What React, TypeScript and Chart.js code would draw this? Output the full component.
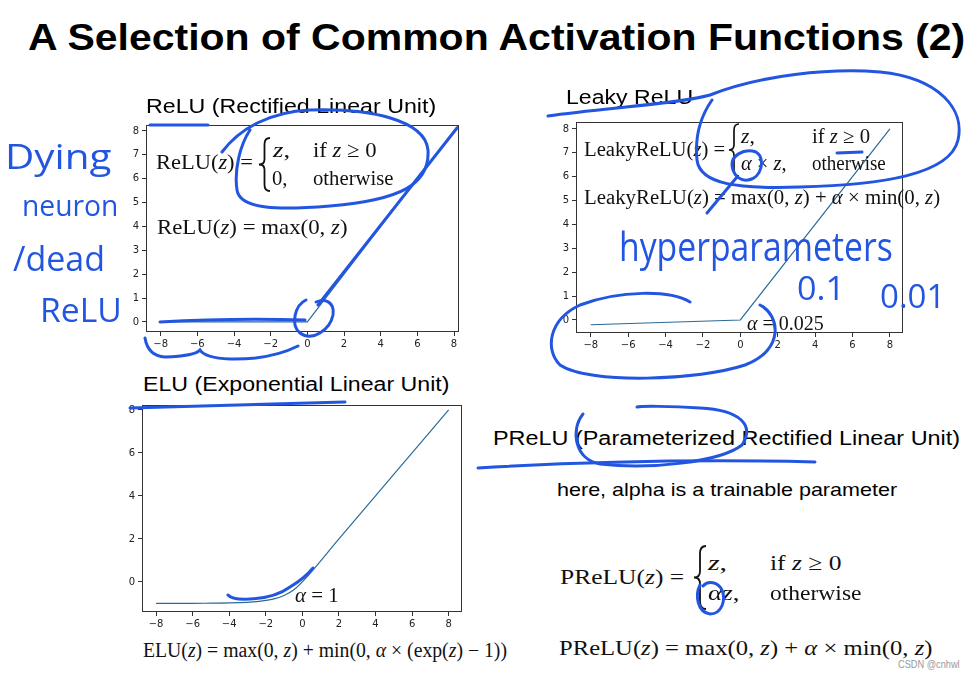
import React, { useEffect, useLayoutEffect, useRef } from 'react';
import { Chart, registerables } from 'chart.js';

Chart.register(...registerables);

// ---------------- data ----------------
const reluZ = [-8, 0, 8.2];
const reluOut = [0, 0, 8.2];

const leakyZ = [-8, 0, 8];
const leakyOut = [-0.2, 0, 8];

const eluZ = [-8, -6, -5, -4, -3, -2.5, -2, -1.5, -1, -0.5, 0, 2, 4, 6, 8];
const eluOut = [-1, -1, -0.99, -0.98, -0.95, -0.92, -0.86, -0.78, -0.63, -0.39, 0, 2, 4, 6, 8];

const xTickValues = [-8, -6, -4, -2, 0, 2, 4, 6, 8];
const reluYTicks = [0, 1, 2, 3, 4, 5, 6, 7, 8];
const leakyYTicks = [0, 1, 2, 3, 4, 5, 6, 7, 8];
const eluYTicks = [0, 2, 4, 6, 8];

const BLUE = '#2356e0';
const LINE = '#2a6a9a';
const SERIF = '"Liberation Serif", "DejaVu Serif", serif';
const SANS = '"Liberation Sans", Arial, sans-serif';
const HAND = '"Open Sans", "DejaVu Sans", sans-serif';

const YW = 30;
const XH = 22;
const PT = 10;
const PR = 12;

const fmt = (v: number) => (v < 0 ? '\u2212' + Math.abs(v) : String(v));

const framePlugin = {
  id: 'frame',
  afterDraw(chart: any) {
    const { ctx, chartArea: a } = chart;
    ctx.save();
    ctx.strokeStyle = '#333';
    ctx.lineWidth = 1;
    ctx.strokeRect(Math.round(a.left) + 0.5, Math.round(a.top) + 0.5, Math.round(a.width) - 1, Math.round(a.height) - 1);
    ctx.restore();
  },
};

type PanelProps = {
  frame: { l: number; t: number; r: number; b: number };
  xs: number[];
  ys: number[];
  xMin: number;
  xMax: number;
  yMin: number;
  yMax: number;
  xTicks: number[];
  yTicks: number[];
  smooth?: boolean;
};

function ChartPanel(p: PanelProps) {
  const ref = useRef<HTMLCanvasElement>(null);
  const w = p.frame.r - p.frame.l + YW + PR;
  const h = p.frame.b - p.frame.t + PT + XH;
  useEffect(() => {
    if (!ref.current) return;
    const tickFont = { family: '"DejaVu Sans", sans-serif', size: 10 };
    const chart = new Chart(ref.current, {
      type: 'line',
      data: {
        datasets: [
          {
            data: p.xs.map((x, i) => ({ x, y: p.ys[i] })),
            borderColor: LINE,
            borderWidth: 1.2,
            pointRadius: 0,
            fill: false,
            cubicInterpolationMode: p.smooth ? 'monotone' : 'default',
            tension: 0,
          },
        ],
      },
      options: {
        animation: false,
        responsive: false,
        maintainAspectRatio: false,
        layout: { padding: { top: PT, right: PR, left: 0, bottom: 0 } },
        plugins: { legend: { display: false }, tooltip: { enabled: false } },
        scales: {
          x: {
            type: 'linear',
            min: p.xMin,
            max: p.xMax,
            afterBuildTicks: (s: any) => {
              s.ticks = p.xTicks.map((v) => ({ value: v }));
            },
            afterFit: (s: any) => {
              s.height = XH;
            },
            grid: { drawOnChartArea: false, drawTicks: true, tickLength: 4, color: '#333' },
            border: { display: false },
            ticks: { font: tickFont, color: '#222', padding: 2, maxRotation: 0, autoSkip: false, callback: (v: any) => fmt(Number(v)) },
          },
          y: {
            type: 'linear',
            min: p.yMin,
            max: p.yMax,
            afterBuildTicks: (s: any) => {
              s.ticks = p.yTicks.map((v) => ({ value: v }));
            },
            afterFit: (s: any) => {
              s.width = YW;
            },
            grid: { drawOnChartArea: false, drawTicks: true, tickLength: 4, color: '#333' },
            border: { display: false },
            ticks: { font: tickFont, color: '#222', padding: 3, autoSkip: false, callback: (v: any) => fmt(Number(v)) },
          },
        },
      },
      plugins: [framePlugin],
    } as any);
    return () => chart.destroy();
  }, []);
  return (
    <canvas
      ref={ref}
      width={w}
      height={h}
      style={{ position: 'absolute', left: p.frame.l - YW, top: p.frame.t - PT, width: w, height: h }}
    />
  );
}

type FitProps = {
  x: number;
  w: number;
  cy: number;
  size: number;
  family?: string;
  weight?: number | string;
  italic?: boolean;
  color?: string;
  children: React.ReactNode;
};

function FitText(p: FitProps) {
  const ref = useRef<HTMLDivElement>(null);
  useLayoutEffect(() => {
    const el = ref.current;
    if (!el) return;
    const natural = el.offsetWidth;
    const k = natural > 0 ? p.w / natural : 1;
    el.style.transform = `translateY(-50%) scaleX(${k})`;
  }, []);
  return (
    <div
      ref={ref}
      style={{
        position: 'absolute',
        left: p.x,
        top: p.cy,
        fontSize: p.size,
        fontFamily: p.family || SERIF,
        fontWeight: p.weight || 400,
        fontStyle: p.italic ? 'italic' : 'normal',
        color: p.color || '#111',
        whiteSpace: 'nowrap',
        lineHeight: 1,
        transformOrigin: '0 50%',
        transform: 'translateY(-50%)',
      }}
    >
      {p.children}
    </div>
  );
}

const I = (s: string) => <i>{s}</i>;

function bracePath(x: number, y0: number, y1: number, w: number) {
  const h = y1 - y0;
  const mid = (y0 + y1) / 2;
  const xm = x + w / 2;
  return `M ${x + w} ${y0} Q ${xm} ${y0} ${xm} ${y0 + h * 0.12} L ${xm} ${mid - h * 0.1} Q ${xm} ${mid} ${x} ${mid} Q ${xm} ${mid} ${xm} ${mid + h * 0.1} L ${xm} ${y1 - h * 0.12} Q ${xm} ${y1} ${x + w} ${y1}`;
}

export default function App() {
  return (
    <div
      style={{
        position: 'absolute',
        left: 0,
        top: 0,
        width: 979,
        height: 679,
        background: '#fff',
        overflow: 'hidden',
      }}
    >
      <ChartPanel
        frame={{ l: 146, t: 125, r: 459, b: 332 }}
        xs={reluZ}
        ys={reluOut}
        xMin={-8.8}
        xMax={8.27}
        yMin={-0.42}
        yMax={8.25}
        xTicks={xTickValues}
        yTicks={reluYTicks}
      />
      <ChartPanel
        frame={{ l: 576, t: 122, r: 903, b: 333 }}
        xs={leakyZ}
        ys={leakyOut}
        xMin={-8.79}
        xMax={8.7}
        yMin={-0.545}
        yMax={8.29}
        xTicks={xTickValues}
        yTicks={leakyYTicks}
      />
      <ChartPanel
        frame={{ l: 142, t: 405, r: 462, b: 612 }}
        xs={eluZ}
        ys={eluOut}
        xMin={-8.77}
        xMax={8.73}
        yMin={-1.4}
        yMax={8.23}
        xTicks={xTickValues}
        yTicks={eluYTicks}
        smooth
      />

      {/* Titles */}
      <FitText x={28} w={937} cy={37} size={37} family={SANS} weight={700} color="#000">
        A Selection of Common Activation Functions (2)
      </FitText>
      <FitText x={146} w={290} cy={106} size={20} family={SANS} color="#000">
        ReLU (Rectified Linear Unit)
      </FitText>
      <FitText x={566} w={127} cy={97} size={20} family={SANS} color="#000">
        Leaky ReLU
      </FitText>
      <FitText x={143} w={307} cy={384} size={20} family={SANS} color="#000">
        ELU (Exponential Linear Unit)
      </FitText>
      <FitText x={493} w={467} cy={438} size={20} family={SANS} color="#000">
        PReLU (Parameterized Rectified Linear Unit)
      </FitText>
      <FitText x={557} w={340} cy={490} size={18.5} family={SANS} color="#000">
        here, alpha is a trainable parameter
      </FitText>

      {/* ReLU formulas */}
      <FitText x={156} w={97} cy={162} size={22}>
        ReLU({I('z')}) =
      </FitText>
      <FitText x={273} w={17} cy={150} size={22}>
        {I('z')},
      </FitText>
      <FitText x={313} w={64} cy={150} size={22}>
        if {I('z')} ≥ 0
      </FitText>
      <FitText x={272} w={16} cy={178} size={22}>
        0,
      </FitText>
      <FitText x={313} w={81} cy={178} size={22}>
        otherwise
      </FitText>
      <FitText x={157} w={190} cy={227} size={22}>
        ReLU({I('z')}) = max(0, {I('z')})
      </FitText>

      {/* Leaky formulas */}
      <FitText x={584} w={141} cy={149} size={20}>
        LeakyReLU({I('z')}) =
      </FitText>
      <FitText x={741} w={14} cy={136} size={20}>
        {I('z')},
      </FitText>
      <FitText x={812} w={58} cy={136} size={20}>
        if {I('z')} ≥ 0
      </FitText>
      <FitText x={741} w={46} cy={163} size={20}>
        {I('α')} × {I('z')},
      </FitText>
      <FitText x={812} w={74} cy={163} size={20}>
        otherwise
      </FitText>
      <FitText x={584} w={356} cy={197} size={20}>
        LeakyReLU({I('z')}) = max(0, {I('z')}) + {I('α')} × min(0, {I('z')})
      </FitText>
      <FitText x={747} w={77} cy={323} size={20}>
        {I('α')} = 0.025
      </FitText>

      {/* ELU formulas */}
      <FitText x={295} w={44} cy={595} size={20}>
        {I('α')} = 1
      </FitText>
      <FitText x={143} w={364} cy={650} size={20}>
        ELU({I('z')}) = max(0, {I('z')}) + min(0, {I('α')} × (exp({I('z')}) − 1))
      </FitText>

      {/* PReLU formulas */}
      <FitText x={560} w={124} cy={577} size={22}>
        PReLU({I('z')}) =
      </FitText>
      <FitText x={708} w={19} cy={563} size={22}>
        {I('z')},
      </FitText>
      <FitText x={770} w={72} cy={563} size={22}>
        if {I('z')} ≥ 0
      </FitText>
      <FitText x={708} w={32} cy={593} size={22}>
        {I('αz')},
      </FitText>
      <FitText x={770} w={92} cy={593} size={22}>
        otherwise
      </FitText>
      <FitText x={559} w={374} cy={648} size={22}>
        PReLU({I('z')}) = max(0, {I('z')}) + {I('α')} × min(0, {I('z')})
      </FitText>

      <FitText x={898} w={62} cy={664} size={11} family={SANS} color="#999">
        CSDN @cnhwl
      </FitText>

      {/* braces */}
      <svg width={979} height={679} style={{ position: 'absolute', left: 0, top: 0, pointerEvents: 'none' }}>
        <path d={bracePath(259, 138, 191, 11)} stroke="#111" strokeWidth={1.8} fill="none" />
        <path d={bracePath(729, 124, 176, 10)} stroke="#111" strokeWidth={1.7} fill="none" />
        <path d={bracePath(694, 546, 609, 12)} stroke="#111" strokeWidth={1.8} fill="none" />
      </svg>

      {/* handwriting text */}
      <FitText x={5} w={107} cy={156} size={34} family={HAND} color={BLUE}>
        Dying
      </FitText>
      <FitText x={22} w={96} cy={205} size={30} family={HAND} color={BLUE}>
        neuron
      </FitText>
      <FitText x={13} w={92} cy={258} size={34} family={HAND} color={BLUE}>
        /dead
      </FitText>
      <FitText x={40} w={82} cy={310} size={32} family={HAND} color={BLUE}>
        ReLU
      </FitText>
      <FitText x={619} w={274} cy={246} size={40} family={HAND} color={BLUE}>
        hyperparameters
      </FitText>
      <FitText x={797} w={48} cy={288} size={32} family={HAND} color={BLUE}>
        0.1
      </FitText>
      <FitText x={880} w={65} cy={296} size={32} family={HAND} color={BLUE}>
        0.01
      </FitText>

      {/* handwriting strokes */}
      <svg width={979} height={679} style={{ position: 'absolute', left: 0, top: 0, pointerEvents: 'none' }}>
        <g stroke={BLUE} strokeWidth={3} fill="none" strokeLinecap="round">
          <path d="M150 125 L208 125" />
          <path d="M222 152 C 240 128 270 112 310 110 C 370 108 425 120 428 150 C 430 185 400 200 330 206 C 280 210 240 210 237 190 C 234 170 240 145 250 130" />
          <path d="M160 322 Q 230 318 305 320" />
          <path d="M318 305 L 457 128" />
          <path d="M306 300 C 295 305 290 325 300 333 C 312 342 330 330 333 315 C 335 302 325 298 316 302" />
          <path d="M145 338 Q 148 356 165 357 Q 195 356 200 350 Q 205 358 230 359 Q 270 360 298 346" />
          <path d="M548 116 C 600 108 680 104 710 95 C 760 75 830 68 880 72 C 940 78 965 110 958 140 C 950 175 880 185 800 187 C 740 189 700 185 697 160 C 694 130 705 110 712 100" />
          <path d="M733 170 C 728 155 745 148 756 152 C 766 158 762 178 748 180 C 740 181 735 176 733 170" />
          <path d="M837 153 L 862 152" />
          <path d="M707 213 L 737 177" />
          <path d="M690 302 C 670 290 620 290 580 305 C 548 320 545 350 560 365 C 590 385 700 380 745 365 C 785 350 780 315 760 305" />
          <path d="M130 408 L 345 402" />
          <path d="M228 595 Q 232 600 250 599 Q 275 598 290 587 Q 305 578 313 568" />
          <path d="M583 414 C 570 430 575 460 600 464 C 650 470 720 462 742 445 C 755 425 740 410 700 408 C 670 406 640 406 637 407" />
          <path d="M478 468 Q 650 458 815 462" />
          <path d="M700 585 C 695 595 697 612 710 614 C 722 614 726 600 722 590 C 718 582 708 580 703 586" />
        </g>
      </svg>
    </div>
  );
}
